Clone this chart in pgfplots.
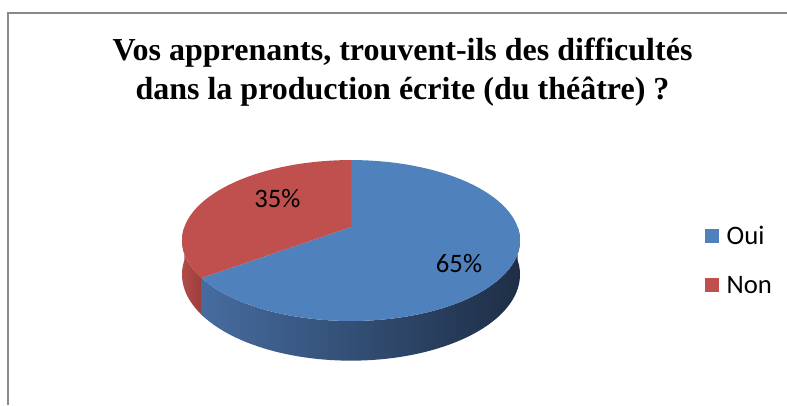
\documentclass[border=0pt]{standalone}
\usepackage{pgfplots}
\pgfplotsset{compat=1.18}
\usepackage{pgfplotstable}
\usepackage{fontspec}
\setmainfont{Liberation Serif}
\newfontfamily\calib{Carlito}

\definecolor{ouiTop}{HTML}{4F81BD}
\definecolor{nonTop}{HTML}{C0504D}
\definecolor{ouiSideL}{HTML}{466C9F}
\definecolor{ouiSideR}{HTML}{1E2E46}
\definecolor{nonSideL}{HTML}{B24C49}
\definecolor{nonSideR}{HTML}{9A3C39}
\definecolor{frame}{HTML}{8A8A8A}

\pgfplotstableread{
label value
Oui 65
Non 35
}\piedata

\begin{document}
\begin{tikzpicture}
\pgfplotstablegetelem{0}{value}\of\piedata \pgfmathsetmacro\vOui{\pgfplotsretval}
\pgfplotstablegetelem{1}{value}\of\piedata \pgfmathsetmacro\vNon{\pgfplotsretval}
% slices start at 12 o'clock and run clockwise
\pgfmathsetmacro\cut{90-3.6*\vOui}      % end of Oui
\pgfmathsetmacro\cutr{90+3.6*\vNon}     % same edge, seen from Non
\begin{axis}[
  scale only axis, width=590.25pt, height=303.75pt,
  xmin=0, xmax=787, ymin=0, ymax=405, y dir=reverse,
  hide axis, clip=false,
  declare function={
    dn(\a)=1+0.168*sin(\a);
    px(\a)=351+166.6*cos(\a)/dn(\a);
    py(\a)=227-78.2*sin(\a)/dn(\a);
    pb(\a)=py(\a)+33/dn(\a);
    tt(\t,\a,\b)=(\t<150)*(\a+(\b-\a)*\t/100)+(\t>=150)*(\b-(\b-\a)*(\t-200)/100);
    sy(\t,\a,\b)=(\t<150)*py(tt(\t,\a,\b))+(\t>=150)*pb(tt(\t,\a,\b));
  },
  legend image code/.code={\fill[#1] (0pt,-5.25pt) rectangle (10.5pt,5.25pt);},
  legend cell align=left,
  legend style={at={(axis cs:705,260.5)}, anchor=west, draw=none, fill=none,
    inner sep=0pt, font=\calib\fontsize{20}{20}\selectfont, row sep=22.75pt,
    nodes={inner sep=0pt, text height=13pt, text depth=1pt},
    /tikz/every odd column/.append style={column sep=5.5pt}},
]
% frame
\draw[frame, line width=1.5pt] (7.8,405) -- (7.8,13.3) -- (787,13.3);

% sides (front half only)
\addplot[forget plot, draw=none, left color=nonSideL, right color=nonSideR,
  variable=\t, samples at={0,1,...,100,200,201,...,300}]
  ({px(tt(\t,180,\cutr+1))},{sy(\t,180,\cutr+1)}) -- cycle;
\addplot[forget plot, draw=none, left color=ouiSideL, right color=ouiSideR,
  variable=\t, samples at={0,1,...,100,200,201,...,300}]
  ({px(tt(\t,\cutr,360))},{sy(\t,\cutr,360)}) -- cycle;

% top faces
\addplot[fill=ouiTop, draw=none, domain=\cut:90, samples=120]
  ({px(x)},{py(x)}) -- (351,227) -- cycle;
\addplot[fill=nonTop, draw=none, domain=90:\cutr, samples=60]
  ({px(x)},{py(x)}) -- (351,227) -- cycle;
\legend{Oui,Non}

% labels
\node[font=\calib\fontsize{20}{20}\selectfont] at (277.5,199) {35\%};
\node[font=\calib\fontsize{20}{20}\selectfont] at (459,264) {65\%};

% title
\node[anchor=base, font=\bfseries\fontsize{24}{29}\selectfont] at (402.5,60)
  {Vos apprenants, trouvent-ils des difficultés};
\node[anchor=base, font=\bfseries\fontsize{24}{29}\selectfont] at (402.5,99)
  {dans la production écrite (du théâtre) ?};
\end{axis}
\pgfresetboundingbox
\useasboundingbox (current axis.south west) rectangle (current axis.north east);
\end{tikzpicture}
\end{document}
